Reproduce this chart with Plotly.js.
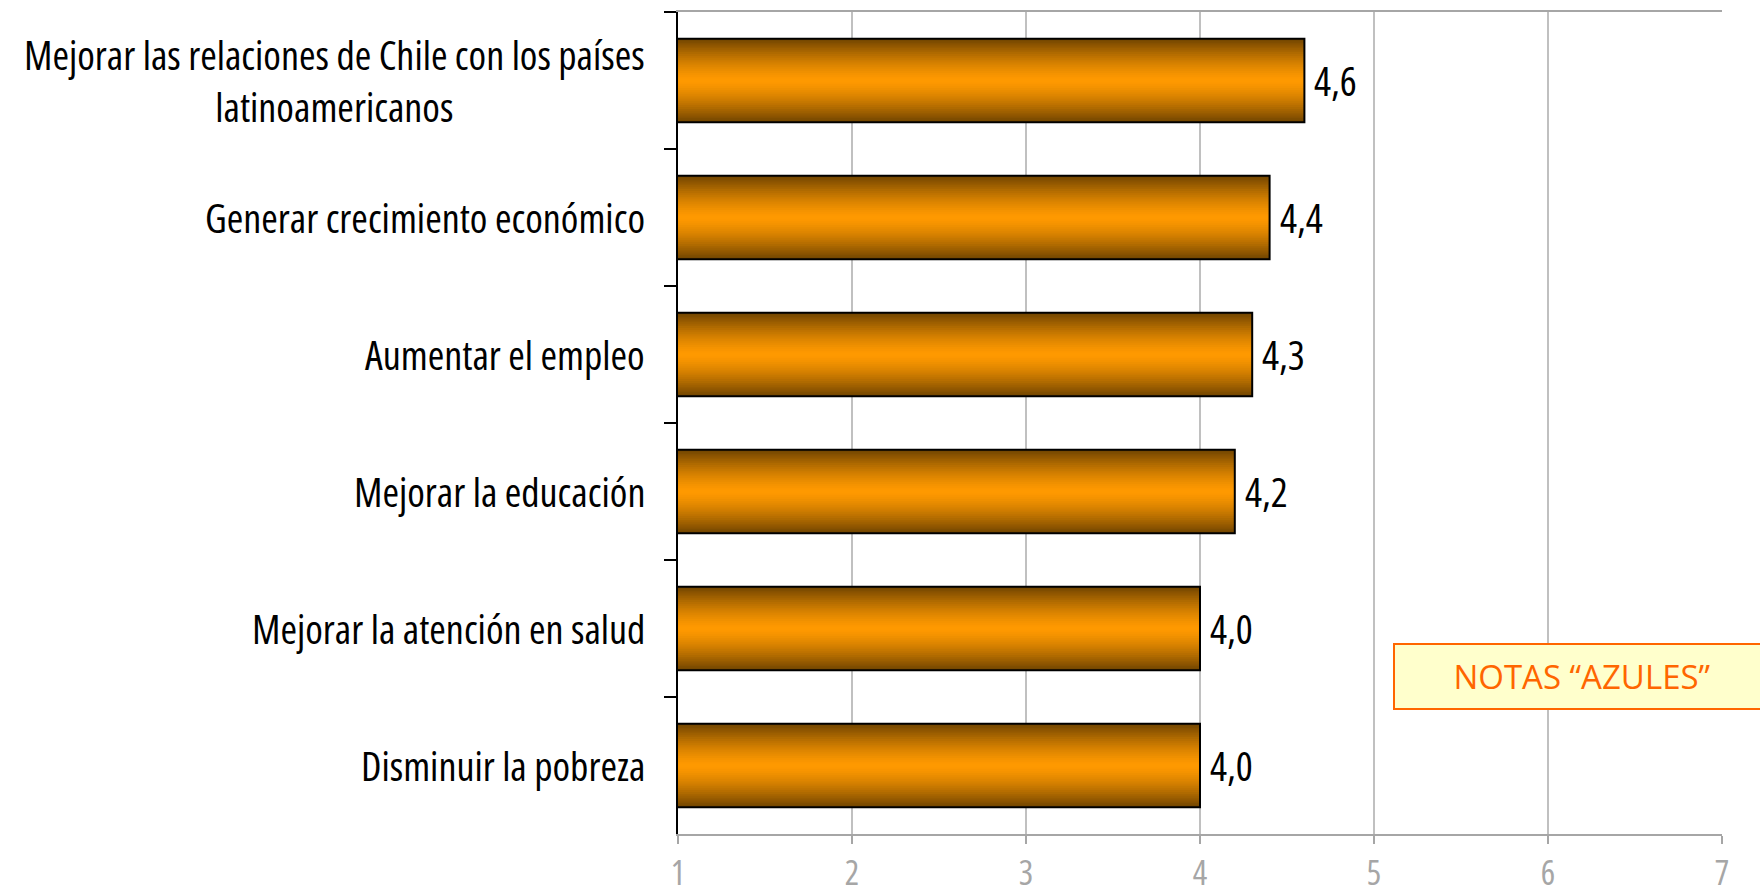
<!DOCTYPE html>
<html>
<head>
<meta charset="utf-8">
<script src="https://cdn.plot.ly/plotly-3.0.1.min.js"></script>
<style>
html,body{margin:0;padding:0;background:#fff;}
#chart{width:1760px;height:894px;}
text, tspan, svg text{font-stretch:75%;}
</style>
</head>
<body>
<div id="chart"></div>
<script>
const categories = [
  "Mejorar las relaciones de Chile con los países<br>latinoamericanos",
  "Generar crecimiento económico",
  "Aumentar el empleo",
  "Mejorar la educación",
  "Mejorar la atención en salud",
  "Disminuir la pobreza"
];
const values = [4.6, 4.4, 4.3, 4.2, 4.0, 4.0];
const xTicks = [1, 2, 3, 4, 5, 6, 7];
const noteText = "NOTAS “AZULES”";

const FONT = "'Open Sans', 'Roboto Condensed', sans-serif";
const BAR_W = 0.608;
const N = 22;
const edge = [112, 68, 0];
const center = [255, 153, 0];

function mix(t) {
  const c = center.map((v, i) => Math.round(v + (edge[i] - v) * t));
  return `rgb(${c[0]},${c[1]},${c[2]})`;
}

const traces = [];
for (let k = 0; k < N; k++) {
  const d = 1 - (k + 0.5) / N;
  traces.push({
    type: 'bar', orientation: 'h',
    y: categories, x: values,
    width: BAR_W * (1 - k / N),
    marker: {color: mix(Math.pow(d, 1.4)), line: {width: 0}},
    hoverinfo: 'skip', showlegend: false
  });
}
traces.push({
  type: 'bar', orientation: 'h',
  y: categories, x: values,
  width: BAR_W,
  marker: {color: 'rgba(0,0,0,0)', line: {color: '#000', width: 2}},
  hovertemplate: '%{y}: %{x:.1f}<extra></extra>', showlegend: false
});

const annotations = [];
categories.forEach((c, i) => {
  annotations.push({
    xref: 'paper', x: 0, xshift: -31, xanchor: 'right',
    yref: 'y', y: c, yanchor: 'middle',
    text: c, align: 'center', showarrow: false,
    font: {family: FONT, size: 40, color: '#000'}
  });
  annotations.push({
    xref: 'x', x: values[i], xshift: 8, xanchor: 'left',
    yref: 'y', y: c, yanchor: 'middle',
    text: values[i].toFixed(1).replace('.', ','), showarrow: false,
    font: {family: FONT, size: 40, color: '#000'}
  });
});
annotations.push({
  xref: 'x', x: 5.11, xanchor: 'left',
  yref: 'paper', y: 0.1916, yanchor: 'middle',
  text: '<span style="font-stretch:100%">' + noteText + '</span>', showarrow: false,
  width: 372, height: 61, align: 'center', valign: 'middle',
  bgcolor: '#ffffcc', bordercolor: '#ff6600', borderwidth: 2, borderpad: 1,
  font: {family: FONT, size: 33, color: '#ff6600'}
});

const layout = {
  width: 1760, height: 894,
  margin: {l: 678, r: 38, t: 12, b: 60},
  paper_bgcolor: '#fff', plot_bgcolor: '#fff',
  barmode: 'overlay',
  showlegend: false,
  xaxis: {
    range: [1, 7], tickvals: xTicks, ticktext: xTicks.map(String),
    showgrid: true, gridcolor: '#c0c0c0', gridwidth: 1.5,
    zeroline: false,
    showline: true, linecolor: '#a6a6a6', linewidth: 2, mirror: true,
    ticks: 'outside', ticklen: 8, tickwidth: 2, tickcolor: '#a6a6a6',
    tickfont: {family: FONT, size: 34, color: '#a6a6a6'},
    ticklabelstandoff: 0
  },
  yaxis: {
    type: 'category', range: [5.5, -0.5],
    showgrid: false, zeroline: false,
    showline: true, linecolor: '#000', linewidth: 2,
    ticks: 'outside', ticklen: 12, tickwidth: 2, tickcolor: '#000',
    tickson: 'boundaries', showticklabels: false
  },
  annotations: annotations
};

Plotly.newPlot('chart', traces, layout, {displayModeBar: false});
</script>
</body>
</html>
